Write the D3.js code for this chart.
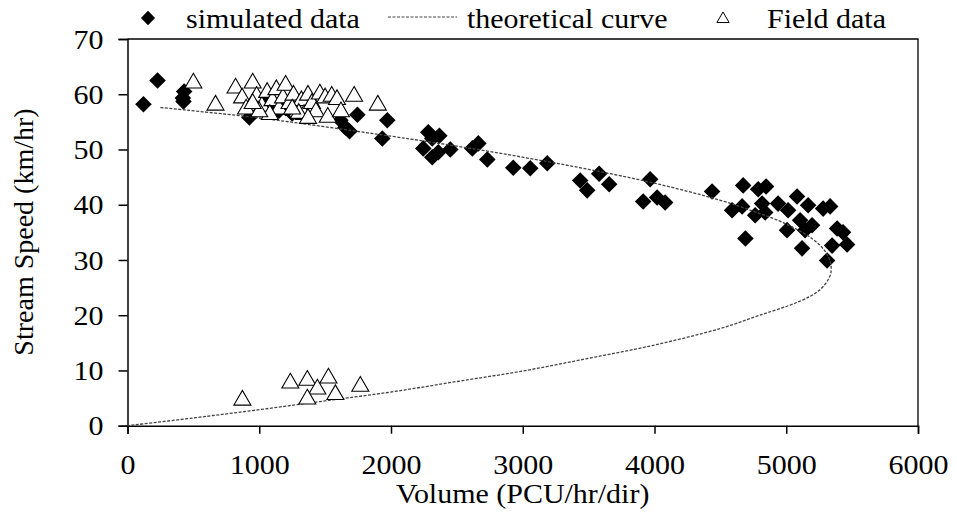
<!DOCTYPE html>
<html><head><meta charset="utf-8">
<script src="https://cdn.jsdelivr.net/npm/d3@7"></script>
<style>
html,body{margin:0;padding:0;background:#fff;}
text{font-family:"Liberation Serif","Times New Roman",serif;fill:#000;}
</style></head>
<body><svg id="c" width="957" height="513"></svg>
<script>
// ---- data ----
const simVolume = [121,228,430,420,425,925,1050,1100,1150,1200,1250,1616,1654,1685,1745,1972,1934,
  2283,2367,2245,2313,2359,2450,2617,2663,2731,2928,3057,3186,2313,
  3436,3489,3580,3656,3967,3914,4020,4081,4437,
  4673,4787,4847,4589,4665,4817,4764,4840,4938,5014,5082,5166,5280,5333,5105,5196,5006,5143,5386,5431,5462,5348,5120,4690,5310];
const simSpeed = [58.2,62.5,60.5,59.3,58.7,55.8,58.5,57.5,57,57.5,56.5,55.3,54,53.3,56.3,55.3,52,
  53.1,52.5,50.2,48.6,49.5,50,50.2,51.1,48.2,46.7,46.6,47.5,52,
  44.4,42.6,45.6,43.7,44.6,40.6,41.3,40.4,42.4,
  43.5,42.8,43.3,39,39.7,40.2,38.1,38.6,40.2,39,41.5,39.9,39.3,39.7,37.2,36.3,35.4,35.4,35.7,35,32.8,32.6,32.1,33.9,29.9];

const fieldVolume = [500,668,820,870,950,900,980,1020,1060,1100,1130,1150,1180,1200,1230,1260,1290,1320,1340,1370,1400,1430,1460,1500,1520,1550,1590,1620,1720,1900,1300,1370,1250,1080,1000,950,
  872,1236,1365,1441,1525,1365,1578,1767];
const fieldSpeed = [62.2,58.2,61.3,59.5,62.2,57.5,59.8,58,60.5,59,61,57.5,59.5,61.8,58.5,60,57,59,56.5,60,58.5,57,60.2,59.5,56,59.8,59.2,57,59.8,58.2,56.7,55.8,57.5,56.5,57,58.5,
  4.8,7.9,8.4,6.8,8.8,5,5.8,7.3];

const curveVolume = [250,1000,2000,2500,3000,3500,4000,4500,4800,5000,5200,5300,5340,5330,5250,5100,4800,4500,4000,3500,3000,2500,2000,1500,1000,500,0];
const curveSpeed  = [57.6,55.7,52.4,50.6,48.6,46.4,43.9,40.8,38.4,36.5,33.8,31.4,29,27,24.5,22.5,20,17.6,14.6,12.2,9.9,8,6.1,4.5,2.9,1.4,0];

const xTicks = [0,1000,2000,3000,4000,5000,6000];
const yTicks = [0,10,20,30,40,50,60,70];
const legendLabels = ["simulated data","theoretical curve","Field data"];
const xTitle = "Volume (PCU/hr/dir)";
const yTitle = "Stream Speed (km/hr)";

// ---- layout ----
const L = 127.5, R = 918, T = 39, B = 425.7;
const FS = 28, STRETCH = 1.07;
const svg = d3.select("#c");
const x = d3.scaleLinear().domain([0,6000]).range([L,R]);
const y = d3.scaleLinear().domain([0,70]).range([B,T]);

// frame (top/right)
svg.append("path").attr("d",`M${L},${T}H${R}V${B}`).attr("fill","none").attr("stroke","#000").attr("stroke-width",1.3);

const xAxis = svg.append("g").attr("transform",`translate(0,${B})`)
  .call(d3.axisBottom(x).tickValues(xTicks).tickFormat(d3.format("d")).tickSize(8).tickPadding(20));
const yAxis = svg.append("g").attr("transform",`translate(${L},0)`)
  .call(d3.axisLeft(y).tickValues(yTicks).tickFormat(d3.format("d")).tickSize(9).tickPadding(15));
[xAxis,yAxis].forEach(g=>{
  g.selectAll("path,line").attr("stroke","#000").attr("stroke-width",1.5);
  g.selectAll("text").attr("font-size",FS).attr("font-family","Liberation Serif").attr("fill","#000").classed("hz",true);
});
yAxis.selectAll("text").attr("dy","0.33em");

svg.append("text").attr("class","hz").attr("x",(L+R)/2).attr("y",503).attr("text-anchor","middle").attr("font-size",FS).text(xTitle);
svg.append("text").attr("transform",`translate(33,${232}) rotate(-90)`).attr("text-anchor","middle").attr("font-size",FS).text(yTitle);

// marks
const diamond = d3.symbol().type(d3.symbolDiamond2).size(175);
const tri = d3.symbol().type(d3.symbolTriangle).size(125);

svg.append("g").selectAll("path").data(simVolume.map((v,i)=>[v,simSpeed[i]])).join("path")
  .attr("d",diamond).attr("transform",d=>`translate(${x(d[0])},${y(d[1])})`).attr("fill","#000");

const line = d3.line().x(d=>x(d[0])).y(d=>y(d[1])).curve(d3.curveCatmullRom);
svg.append("path").datum(curveVolume.map((v,i)=>[v,curveSpeed[i]])).attr("d",line)
  .attr("fill","none").attr("stroke","#444").attr("stroke-width",1.3).attr("stroke-dasharray","3,1.5");

svg.append("g").selectAll("path").data(fieldVolume.map((v,i)=>[v,fieldSpeed[i]])).join("path")
  .attr("d",tri).attr("transform",d=>`translate(${x(d[0])},${y(d[1])+1})`)
  .attr("fill","#fff").attr("stroke","#000").attr("stroke-width",1.1);

// legend
const lg = svg.append("g");
lg.append("path").attr("d",d3.symbol().type(d3.symbolDiamond2).size(130)).attr("transform","translate(148,18)").attr("fill","#000");
lg.append("text").attr("class","hz").attr("x",186).attr("y",28).attr("font-size",FS).text(legendLabels[0]);
lg.append("line").attr("x1",388).attr("x2",457).attr("y1",17).attr("y2",17).attr("stroke","#444").attr("stroke-width",1.2).attr("stroke-dasharray","3,1.5");
lg.append("text").attr("class","hz").attr("x",467).attr("y",28).attr("font-size",FS).text(legendLabels[1]);
lg.append("path").attr("d",d3.symbol().type(d3.symbolTriangle).size(65)).attr("transform","translate(723,19)").attr("fill","#fff").attr("stroke","#000").attr("stroke-width",1);
lg.append("text").attr("class","hz").attr("x",767).attr("y",28).attr("font-size",FS).text(legendLabels[2]);

// slight horizontal widening of text to match reference glyph widths
svg.selectAll("text.hz").each(function(){
  const w = this.getComputedTextLength();
  d3.select(this).attr("textLength", w*STRETCH).attr("lengthAdjust","spacingAndGlyphs");
});
</script></body></html>
